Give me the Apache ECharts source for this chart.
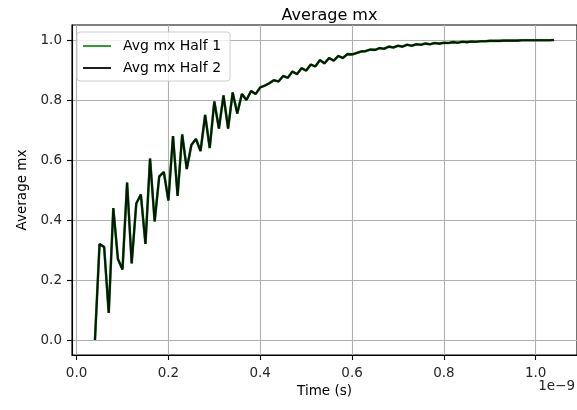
<!DOCTYPE html>
<html>
<head>
<meta charset="utf-8">
<script src="https://cdn.jsdelivr.net/npm/echarts@6/dist/echarts.min.js"></script>
<style>html,body{margin:0;padding:0;background:#fff}#c{width:577px;height:410px}</style>
</head>
<body>
<div id="c"></div>
<script>
// time in units of 1e-9 s
const timeNs = [];
for (let i = 0; i <= 100; i++) timeNs.push(+(0.04 + i * 0.01).toFixed(2));
const half1 = [
  0.00, 0.32, 0.31, 0.09, 0.44, 0.27, 0.235, 0.525, 0.255, 0.455,
  0.485, 0.32, 0.605, 0.395, 0.545, 0.56, 0.465, 0.68, 0.48, 0.685,
  0.57, 0.65, 0.67, 0.63, 0.75, 0.64, 0.795, 0.705, 0.815, 0.705,
  0.825, 0.755, 0.82, 0.80, 0.83, 0.82, 0.842, 0.848, 0.856, 0.866,
  0.862, 0.88, 0.874, 0.895, 0.886, 0.906, 0.898, 0.918, 0.912, 0.933,
  0.922, 0.94, 0.931, 0.947, 0.94, 0.953, 0.952, 0.957, 0.962, 0.963,
  0.968, 0.967, 0.973, 0.971, 0.978, 0.975, 0.981, 0.978, 0.984, 0.981,
  0.986, 0.984, 0.988, 0.986, 0.990, 0.988, 0.991, 0.990, 0.993, 0.991,
  0.994, 0.993, 0.995, 0.994, 0.996, 0.996, 0.997, 0.997, 0.997, 0.998,
  0.998, 0.998, 0.998, 0.999, 0.999, 0.999, 0.999, 0.999, 0.999, 0.999,
  1.0
];
const half2 = half1.slice();
const xTicks = [0.0, 0.2, 0.4, 0.6, 0.8, 1.0];
const yTicks = [0.0, 0.2, 0.4, 0.6, 0.8, 1.0];

const FONT = 'DejaVu Sans';
const chart = echarts.init(document.getElementById('c'), null, {renderer: 'canvas'});
const pair = (ys) => timeNs.map((t, i) => [t, ys[i]]);
const axisCommon = {
  axisLine: {show: true, onZero: false, lineStyle: {color: '#000', width: 1.1}},
  axisTick: {show: true, length: 5, lineStyle: {color: '#000', width: 1.1}},
  splitLine: {show: true, lineStyle: {color: '#b0b0b0', width: 1.1}},
  axisLabel: {color: '#262626', fontFamily: FONT, fontSize: 13.5, formatter: v => v.toFixed(1)}
};
chart.setOption({
  animation: false,
  backgroundColor: '#fff',
  title: {
    text: 'Average mx', left: 324.5, top: 3, textAlign: 'center',
    textStyle: {fontFamily: FONT, fontSize: 16, fontWeight: 'normal', color: '#000'}
  },
  grid: {left: 72, right: 0, top: 25, bottom: 55, show: true, borderColor: '#000', borderWidth: 1.1, containLabel: false},
  legend: {
    orient: 'vertical', left: 77, top: 32,
    itemWidth: 28, itemHeight: 14, itemGap: 8,
    padding: [7, 9, 6, 6],
    backgroundColor: 'rgba(255,255,255,0.8)', borderColor: '#cccccc', borderWidth: 1, borderRadius: 3,
    textStyle: {fontFamily: FONT, fontSize: 14, color: '#000', padding: [0, 0, 0, 7]},
    data: [
      {name: 'Avg mx Half 1', icon: 'path://M0,0L28,0L28,2L0,2Z'},
      {name: 'Avg mx Half 2', icon: 'path://M0,0L28,0L28,2L0,2Z'}
    ]
  },
  xAxis: Object.assign({}, axisCommon, {
    type: 'value', min: -0.01, max: 1.09,
    name: 'Time (s)', nameLocation: 'middle', nameGap: 26,
    nameTextStyle: {fontFamily: FONT, fontSize: 13.5, color: '#000'},
    axisTick: Object.assign({}, axisCommon.axisTick, {customValues: xTicks}),
    axisLabel: Object.assign({}, axisCommon.axisLabel, {customValues: xTicks, margin: 11})
  }),
  yAxis: Object.assign({}, axisCommon, {
    type: 'value', min: -0.05, max: 1.05,
    name: 'Average mx', nameLocation: 'middle', nameGap: 43, nameRotate: 90,
    nameTextStyle: {fontFamily: FONT, fontSize: 13.5, color: '#000'},
    axisTick: Object.assign({}, axisCommon.axisTick, {customValues: yTicks}),
    axisLabel: Object.assign({}, axisCommon.axisLabel, {customValues: yTicks, margin: 10})
  }),
  graphic: [{
    type: 'text', right: 2, top: 379,
    style: {text: '1e\u22129', fontFamily: FONT, fontSize: 13.5, fill: '#262626'}
  }],
  series: [
    {name: 'Avg mx Half 1', type: 'line', data: pair(half1), showSymbol: false, symbol: 'none',
     lineStyle: {color: '#2ca02c', width: 2.6}, itemStyle: {color: '#2ca02c'}},
    {name: 'Avg mx Half 2', type: 'line', data: pair(half2), showSymbol: false, symbol: 'none',
     lineStyle: {color: '#000', width: 2.1, opacity: 0.85}, itemStyle: {color: '#1f1f1f'}}
  ]
});
</script>
</body>
</html>
